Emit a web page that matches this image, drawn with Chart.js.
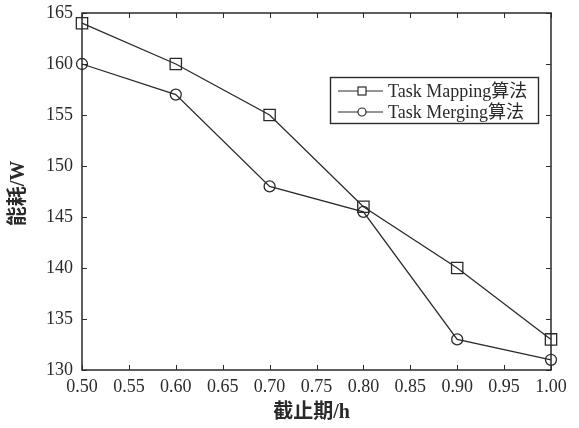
<!DOCTYPE html>
<html><head><meta charset="utf-8">
<script src="https://cdn.jsdelivr.net/npm/chart.js@4/dist/chart.umd.min.js"></script>
<style>html,body{margin:0;padding:0;background:#fff}#wrap{width:579px;height:428px}</style>
</head><body><div id="wrap"><canvas id="c" width="579" height="428"></canvas></div>
<script>
const deadlines = [0.5, 0.6, 0.7, 0.8, 0.9, 1.0];
const mappingValues = [164, 160, 155, 146, 140, 133];
const mergingValues = [160, 157, 148, 145.5, 133, 131];
const seriesLabels = ['Task Mapping算法', 'Task Merging算法'];
const xTitle = '截止期/h';
const yTitle = '能耗/W';

const INK = '#2a2a2a';
const serif = '"Liberation Serif", "Noto Sans CJK SC", serif';

const framePlugin = {
  id: 'frame',
  beforeDatasetsDraw(chart) {
    const {ctx, chartArea: a, scales: {x, y}} = chart;
    ctx.save();
    ctx.strokeStyle = INK;
    ctx.lineWidth = 1.5;
    ctx.strokeRect(a.left, a.top, a.right - a.left, a.bottom - a.top);
    ctx.lineWidth = 1;
    const tl = 5;
    x.ticks.forEach(t => {
      const px = Math.round(x.getPixelForValue(t.value)) + 0.5;
      ctx.beginPath();
      ctx.moveTo(px, a.bottom); ctx.lineTo(px, a.bottom - tl);
      ctx.moveTo(px, a.top); ctx.lineTo(px, a.top + tl);
      ctx.stroke();
    });
    y.ticks.forEach(t => {
      const py = Math.round(y.getPixelForValue(t.value)) + 0.5;
      ctx.beginPath();
      ctx.moveTo(a.left, py); ctx.lineTo(a.left + tl, py);
      ctx.moveTo(a.right, py); ctx.lineTo(a.right - tl, py);
      ctx.stroke();
    });
    ctx.restore();
  },
  afterDatasetsDraw(chart) {
    const {ctx, chartArea: a} = chart;
    ctx.save();
    // axis titles
    ctx.fillStyle = INK;
    ctx.font = 'bold 20px ' + serif;
    ctx.textAlign = 'center';
    ctx.textBaseline = 'middle';
    ctx.fillText(xTitle, (a.left + a.right) / 2 - 5, 413);
    ctx.save();
    ctx.translate(19, (a.top + a.bottom) / 2 + 2);
    ctx.rotate(-Math.PI / 2);
    ctx.fillText(yTitle, 0, 0);
    ctx.restore();
    // legend
    const bx = 330, by = 77, bw = 208, bh = 46;
    ctx.strokeStyle = INK;
    ctx.lineWidth = 1.4;
    ctx.strokeRect(bx + 0.5, by + 0.5, bw, bh);
    chart.data.datasets.forEach((ds, i) => {
      const cy = by + 14 + i * 21;
      ctx.strokeStyle = INK;
      ctx.lineWidth = 1.2;
      ctx.beginPath(); ctx.moveTo(bx + 8, cy); ctx.lineTo(bx + 53, cy); ctx.stroke();
      ctx.fillStyle = '#fff';
      if (i === 0) {
        ctx.fillRect(bx + 28, cy - 4, 8, 8);
        ctx.strokeRect(bx + 28, cy - 4, 8, 8);
      } else {
        ctx.beginPath(); ctx.arc(bx + 32, cy, 4, 0, Math.PI * 2); ctx.fill(); ctx.stroke();
      }
      ctx.fillStyle = INK;
      ctx.font = '18px ' + serif;
      ctx.textBaseline = 'middle';
      ctx.textAlign = 'left';
      ctx.fillText(ds.label, bx + 58, cy + 1);
    });
    ctx.restore();
  }
};

const mkData = vals => deadlines.map((d, i) => ({x: d, y: vals[i]}));

new Chart(document.getElementById('c'), {
  type: 'line',
  data: {
    datasets: [
      {label: seriesLabels[0], data: mkData(mappingValues), borderColor: INK, borderWidth: 1.3, clip: false,
       pointStyle: 'rect', pointRadius: 8, pointBorderWidth: 1.3, pointBackgroundColor: 'rgba(255,255,255,0)', pointBorderColor: INK, tension: 0},
      {label: seriesLabels[1], data: mkData(mergingValues), borderColor: INK, borderWidth: 1.3, clip: false,
       pointStyle: 'circle', pointRadius: 5.5, pointBorderWidth: 1.3, pointBackgroundColor: 'rgba(255,255,255,0)', pointBorderColor: INK, tension: 0}
    ]
  },
  options: {
    responsive: false,
    animation: false,
    devicePixelRatio: 1,
    layout: {padding: {top: 13, right: 28, left: 0, bottom: 0}},
    plugins: {legend: {display: false}, tooltip: {enabled: false}},
    scales: {
      x: {
        type: 'linear', min: 0.5, max: 1.0,
        afterFit(s) { s.height = 58; s.paddingLeft = 0; s.paddingRight = 0; },
        grid: {display: false, drawTicks: false},
        border: {display: false},
        ticks: {stepSize: 0.05, color: INK, padding: 6, font: {family: serif, size: 18},
                callback: v => v.toFixed(2), maxRotation: 0, autoSkip: false},
        title: {display: false}
      },
      y: {
        min: 130, max: 165,
        afterFit(s) { s.width = 82; s.paddingTop = 0; s.paddingBottom = 0; },
        grid: {display: false, drawTicks: false},
        border: {display: false},
        ticks: {stepSize: 5, color: INK, padding: 9, font: {family: serif, size: 18}},
        title: {display: false}
      }
    }
  },
  plugins: [framePlugin]
});
</script></body></html>
